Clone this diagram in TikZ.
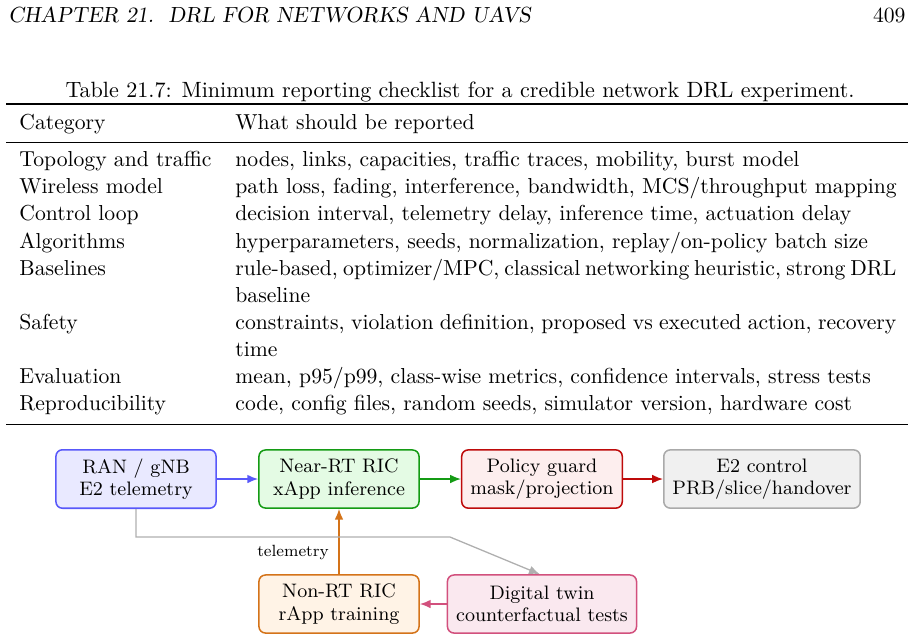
\documentclass[tikz,border=0pt]{standalone}
\usetikzlibrary{arrows.meta}

\definecolor{ranline}{RGB}{88,88,250}
\definecolor{ranfill}{RGB}{233,233,255}
\definecolor{ricline}{RGB}{20,155,20}
\definecolor{ricfill}{RGB}{228,251,228}
\definecolor{guardline}{RGB}{190,10,10}
\definecolor{guardfill}{RGB}{253,238,238}
\definecolor{ctlline}{RGB}{170,170,170}
\definecolor{ctlfill}{RGB}{240,240,240}
\definecolor{nonrtline}{RGB}{212,115,25}
\definecolor{nonrtfill}{RGB}{255,243,230}
\definecolor{twinline}{RGB}{210,80,125}
\definecolor{twinfill}{RGB}{250,232,239}
\definecolor{teleline}{RGB}{175,175,175}

% justified line of the second column
\newcommand{\fullline}[1]{\hbox to 305.1pt{#1}}

\tikzset{
  block/.style={draw, rounded corners=3pt, line width=0.7pt, align=center,
    minimum width=73.9pt, minimum height=26.8pt, inner sep=4pt,
    font=\fontsize{9}{10.4}\selectfont},
  flow/.style={-{Latex[length=5pt,width=4pt]}, line width=0.7pt},
  cell/.style={anchor=base west, inner sep=0pt},
}

\begin{document}
\begin{tikzpicture}[x=0.4616pt, y=-0.4616pt]
  \useasboundingbox (0,0) rectangle (915,640);

  % Running head
  \node[cell, font=\fontsize{10.1}{12}\slshape] (head) at (8,22) {CHAPTER 21.\ \ DRL FOR NETWORKS AND UAVS};
  \node[anchor=base east, inner sep=0pt] (page) at (906,22) {409};

  % Caption and rules
  \node[anchor=base, inner sep=0pt, font=\fontsize{10.2}{12}\selectfont] (caption) at (460,97)
    {Table 21.7: Minimum reporting checklist for a credible network DRL experiment.};
  \draw[line width=0.8pt] (6,104.3) -- (908,104.3);
  \draw[line width=0.5pt] (6,142.7) -- (908,142.7);
  \draw[line width=0.8pt] (6,424.6) -- (908,424.6);

  % Table head
  \node[cell] (cathead) at (19,129.5) {Category};
  \node[cell] (rephead) at (235,129.5) {What should be reported};

  % Table body
  \node[cell] (cat1) at (19,166.7) {Topology and traffic};
  \node[cell] (rep1) at (235,166.7) {nodes, links, capacities, traffic traces, mobility, burst model};
  \node[cell] (cat2) at (19,193.8) {Wireless model};
  \node[cell] (rep2) at (235,193.8) {path loss, fading, interference, bandwidth, MCS/throughput mapping};
  \node[cell] (cat3) at (19,220.9) {Control loop};
  \node[cell] (rep3) at (235,220.9) {decision interval, telemetry delay, inference time, actuation delay};
  \node[cell] (cat4) at (19,248.0) {Algorithms};
  \node[cell] (rep4) at (235,248.0) {hyperparameters, seeds, normalization, replay/on-policy batch size};
  \node[cell] (cat5) at (19,275.1) {Baselines};
  \node[cell] (rep5) at (235,275.1) {\fullline{rule-based, optimizer/MPC, classical networking heuristic, strong DRL}};
  \node[cell] (rep5b) at (235,302.2) {baseline};
  \node[cell] (cat6) at (19,329.3) {Safety};
  \node[cell] (rep6) at (235,329.3) {\fullline{constraints, violation definition, proposed vs executed action, recovery}};
  \node[cell] (rep6b) at (235,356.4) {time};
  \node[cell] (cat7) at (19,383.5) {Evaluation};
  \node[cell] (rep7) at (235,383.5) {mean, p95/p99, class-wise metrics, confidence intervals, stress tests};
  \node[cell] (cat8) at (19,410.6) {Reproducibility};
  \node[cell] (rep8) at (235,410.6) {code, config files, random seeds, simulator version, hardware cost};

  % O-RAN loop
  \node[block, draw=ranline, fill=ranfill] (ran) at (136,479) {RAN / gNB\\E2 telemetry};
  \node[block, draw=ricline, fill=ricfill] (nearrt) at (339,479) {Near-RT RIC\\xApp inference};
  \node[block, draw=guardline, fill=guardfill] (guard) at (542,479) {Policy guard\\mask/projection};
  \node[block, draw=ctlline, fill=ctlfill] (e2ctl) at (762,479) {E2 control\\PRB/slice/handover};
  \node[block, draw=nonrtline, fill=nonrtfill] (nonrt) at (339,604) {Non-RT RIC\\rApp training};
  \node[block, draw=twinline, fill=twinfill] (twin) at (542,604) {Digital twin\\counterfactual tests};

  \draw[flow, ranline] (ran) -- (nearrt);
  \draw[flow, ricline] (nearrt) -- (guard);
  \draw[flow, guardline] (guard) -- (e2ctl);
  \draw[flow, nonrtline] (nonrt) -- (nearrt);
  \draw[flow, twinline] (twin) -- (nonrt);

  % Telemetry feed to the twin
  \coordinate (bend) at (450,537);
  \draw[flow, teleline, line width=0.6pt] (ran.south) |- node[pos=0.75, below, text=black,
    font=\fontsize{7.5}{9}\selectfont] (telelabel) {telemetry} (bend) -- ([xshift=-1pt]twin.north);
\end{tikzpicture}
\end{document}
